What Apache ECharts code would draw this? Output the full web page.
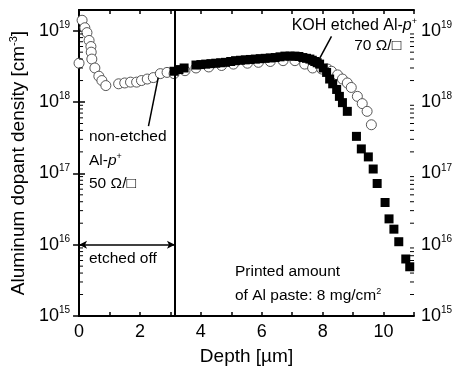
<!DOCTYPE html>
<html><head><meta charset="utf-8">
<script src="https://cdn.jsdelivr.net/npm/echarts@6/dist/echarts.min.js"></script>
<style>html,body{margin:0;padding:0;background:#fff}#c{width:459px;height:371px}</style>
</head><body><div id="c"></div>
<script>
// Non-etched Al-p+ (open circles)
const nonEtchedDepth = [0.00,0.10,0.19,0.26,0.33,0.39,0.40,0.42,0.52,0.65,0.75,0.88,
  1.30,1.50,1.69,1.89,2.05,2.24,2.44,2.67,2.89,
  3.12,3.48,3.84,4.26,4.68,5.07,5.53,5.89,6.28,6.70,7.09,7.41,7.67,7.97,8.16,8.29,8.49,8.65,8.81,8.94,9.14,9.30,9.46,9.60];
const nonEtchedDensity = [3.5e18,1.4e19,1.1e19,9.4e18,7.3e18,6.0e18,5.0e18,4.0e18,3.0e18,2.3e18,2.0e18,1.7e18,
  1.8e18,1.85e18,1.9e18,1.9e18,2.0e18,2.1e18,2.2e18,2.5e18,2.6e18,
  2.5e18,2.75e18,3.0e18,3.1e18,3.25e18,3.4e18,3.5e18,3.6e18,3.7e18,3.8e18,3.8e18,3.4e18,3.0e18,2.9e18,2.9e18,2.7e18,2.4e18,2.1e18,1.85e18,1.6e18,1.2e18,9.5e17,7.4e17,4.8e17];
// KOH etched Al-p+ (filled squares)
const kohDepth = [3.12,3.28,3.45,3.84,4.00,4.16,4.33,4.49,4.65,4.81,4.98,5.14,5.30,5.46,5.62,5.79,5.95,6.11,6.28,6.44,6.60,6.76,6.93,7.09,7.22,7.35,7.47,7.58,7.66,7.74,7.82,7.90,8.02,
  8.13,8.23,8.33,8.46,8.55,8.65,8.81,9.11,9.27,9.50,9.66,9.79,10.05,10.18,10.34,10.50,10.73,10.86];
const kohDensity = [2.7e18,2.85e18,3.0e18,3.3e18,3.35e18,3.4e18,3.45e18,3.5e18,3.55e18,3.6e18,3.7e18,3.8e18,3.85e18,3.9e18,3.95e18,4.0e18,4.05e18,4.1e18,4.15e18,4.2e18,4.3e18,4.4e18,4.4e18,4.4e18,4.35e18,4.2e18,4.1e18,4.0e18,3.85e18,3.7e18,3.55e18,3.4e18,3.0e18,
  2.6e18,2.1e18,1.8e18,1.5e18,1.2e18,9.8e17,7.4e17,3.3e17,2.2e17,1.7e17,1.15e17,7.2e16,3.9e16,2.3e16,1.65e16,1.1e16,6.3e15,4.9e15];
// axes
const xMin = 0, xMax = 11, xStep = 1;
const yMin = 1e15, yMax = 1.95e19;
const decades = [15,16,17,18,19];
const mantissas = [2,3,4,5,6,7,8,9];
const etchDepth = 3.15;
const arrowLevel = 1e16;

const minorVals = [];
decades.forEach(d => mantissas.forEach(m => { const v = m * Math.pow(10, d); if (v <= yMax) minorVals.push(v); }));

const supLabel = v => {
  const l = Math.log10(v), e = Math.round(l);
  if (Math.abs(l - e) > 0.01) return '';
  return '{b|10}{s|' + e + '}';
};
const font = 'Liberation Sans';
const richLab = {
  b: {fontSize: 18, fontFamily: font, color: '#000'},
  s: {fontSize: 10, fontFamily: font, color: '#000', padding: [0,0,11,0]}
};
const yAxisCommon = {
  type: 'log', logBase: 10, min: yMin, max: yMax,
  axisLine: {show: true, lineStyle: {color: '#000', width: 2}},
  axisTick: {show: true, inside: true, length: 6, lineStyle: {color: '#000', width: 1.5}},
  splitLine: {show: false},
  axisLabel: {formatter: supLabel, rich: richLab, showMaxLabel: false},
};

const chart = echarts.init(document.getElementById('c'), null, {renderer: 'canvas'});
const F = '15.5px "Liberation Sans"';
const FI = 'italic 15.5px "Liberation Sans"';
const FS = '9px "Liberation Sans"';
chart.setOption({
  animation: false,
  backgroundColor: '#fff',
  grid: {left: 77, right: 45, top: 10, bottom: 52},
  xAxis: [{
    type: 'value', min: xMin, max: xMax, interval: xStep, position: 'bottom',
    name: 'Depth [µm]', nameLocation: 'middle', nameGap: 31,
    nameTextStyle: {fontSize: 19, fontFamily: font, color: '#000'},
    axisLine: {lineStyle: {color: '#000', width: 2}},
    axisTick: {inside: true, length: 4, lineStyle: {color: '#000', width: 1.5}},
    splitLine: {show: false},
    axisLabel: {fontSize: 18, fontFamily: font, color: '#000', margin: 7,
      formatter: v => (Math.round(v) % 2 === 0 ? String(v) : ''), showMaxLabel: true}
  }, {
    type: 'value', min: xMin, max: xMax, interval: xStep, position: 'top',
    axisLine: {show: true, lineStyle: {color: '#000', width: 2}},
    axisTick: {show: true, inside: true, length: 4, lineStyle: {color: '#000', width: 1.5}},
    axisLabel: {show: false}, splitLine: {show: false}
  }],
  yAxis: [Object.assign({}, yAxisCommon, {
    position: 'left',
    name: 'Aluminum dopant density [cm{s|-3}]', nameLocation: 'middle', nameGap: 50,
    nameTextStyle: {fontSize: 19, fontFamily: font, color: '#000',
      rich: {s: {fontSize: 11, fontFamily: font, color: '#000', padding: [0,0,10,0]}}},
    axisLabel: Object.assign({}, yAxisCommon.axisLabel, {margin: 9})
  }), Object.assign({}, yAxisCommon, {
    position: 'right',
    axisLabel: Object.assign({}, yAxisCommon.axisLabel, {margin: 7})
  })],
  series: [
    {type: 'scatter', name: 'non-etched', symbol: 'circle', symbolSize: 10, clip: false,
      itemStyle: {color: '#fff', borderColor: '#444', borderWidth: 0.9, opacity: 1},
      data: nonEtchedDepth.map((d, i) => [d, nonEtchedDensity[i]]), z: 2},
    {type: 'scatter', name: 'KOH', symbol: 'rect', symbolSize: 9, clip: false,
      itemStyle: {color: '#000', opacity: 1},
      data: kohDepth.map((d, i) => [d, kohDensity[i]]), z: 3,
      markLine: {silent: true, animation: false, label: {show: false},
        lineStyle: {color: '#000', type: 'solid', width: 1.5, opacity: 1},
        symbol: 'none',
        data: [
          [{coord: [etchDepth, yMin], lineStyle: {width: 2}}, {coord: [etchDepth, yMax]}],
          [{coord: [2.28, 4.6e17]}, {coord: [2.60, 2.2e18]}],
          [{coord: [7.80, 3.4e18]}, {coord: [8.29, 8.3e18]}],
          [{coord: [0, arrowLevel], symbol: 'arrow', symbolSize: [6, 8]}, {coord: [etchDepth, arrowLevel], symbol: 'arrow', symbolSize: [6, 8]}]
        ]}},
    {type: 'scatter', name: 'minorL', symbol: 'rect', symbolSize: [4, 1], symbolOffset: [2, 0], clip: false, silent: true,
      itemStyle: {color: '#000', opacity: 1}, data: minorVals.map(v => [xMin, v]), z: 4},
    {type: 'scatter', name: 'minorR', symbol: 'rect', symbolSize: [4, 1], symbolOffset: [-2, 0], clip: false, silent: true,
      itemStyle: {color: '#000', opacity: 1}, data: minorVals.map(v => [xMax, v]), z: 4}
  ],
  graphic: [
    {type: 'text', left: 89, top: 129, style: {text: 'non-etched', font: F, fill: '#000'}},
    {type: 'text', left: 89, top: 152, style: {rich: {n: {font: F}, i: {font: FI}, s: {font: FS, padding: [0,0,9,0]}}, text: '{n|Al-}{i|p}{s|+}', fill: '#000'}},
    {type: 'text', left: 89, top: 176, style: {text: '50 Ω/□', font: F, fill: '#000'}},
    {type: 'text', left: 89, top: 251, style: {text: 'etched off', font: F, fill: '#000'}},
    {type: 'text', right: 42, top: 17, style: {rich: {n: {font: '16px "Liberation Sans"'}, i: {font: 'italic 16px "Liberation Sans"'}, s: {font: FS, padding: [0,0,9,0]}}, text: '{n|KOH etched Al-}{i|p}{s|+}', fill: '#000'}},
    {type: 'text', right: 58, top: 38, style: {text: '70 Ω/□', font: F, fill: '#000'}},
    {type: 'text', left: 235, top: 264, style: {text: 'Printed amount', font: F, fill: '#000'}},
    {type: 'text', left: 235, top: 287, style: {rich: {n: {font: F}, s: {font: FS, padding: [0,0,9,0]}}, text: '{n|of Al paste: 8 mg/cm}{s|2}', fill: '#000'}}
  ]
});
</script></body></html>
